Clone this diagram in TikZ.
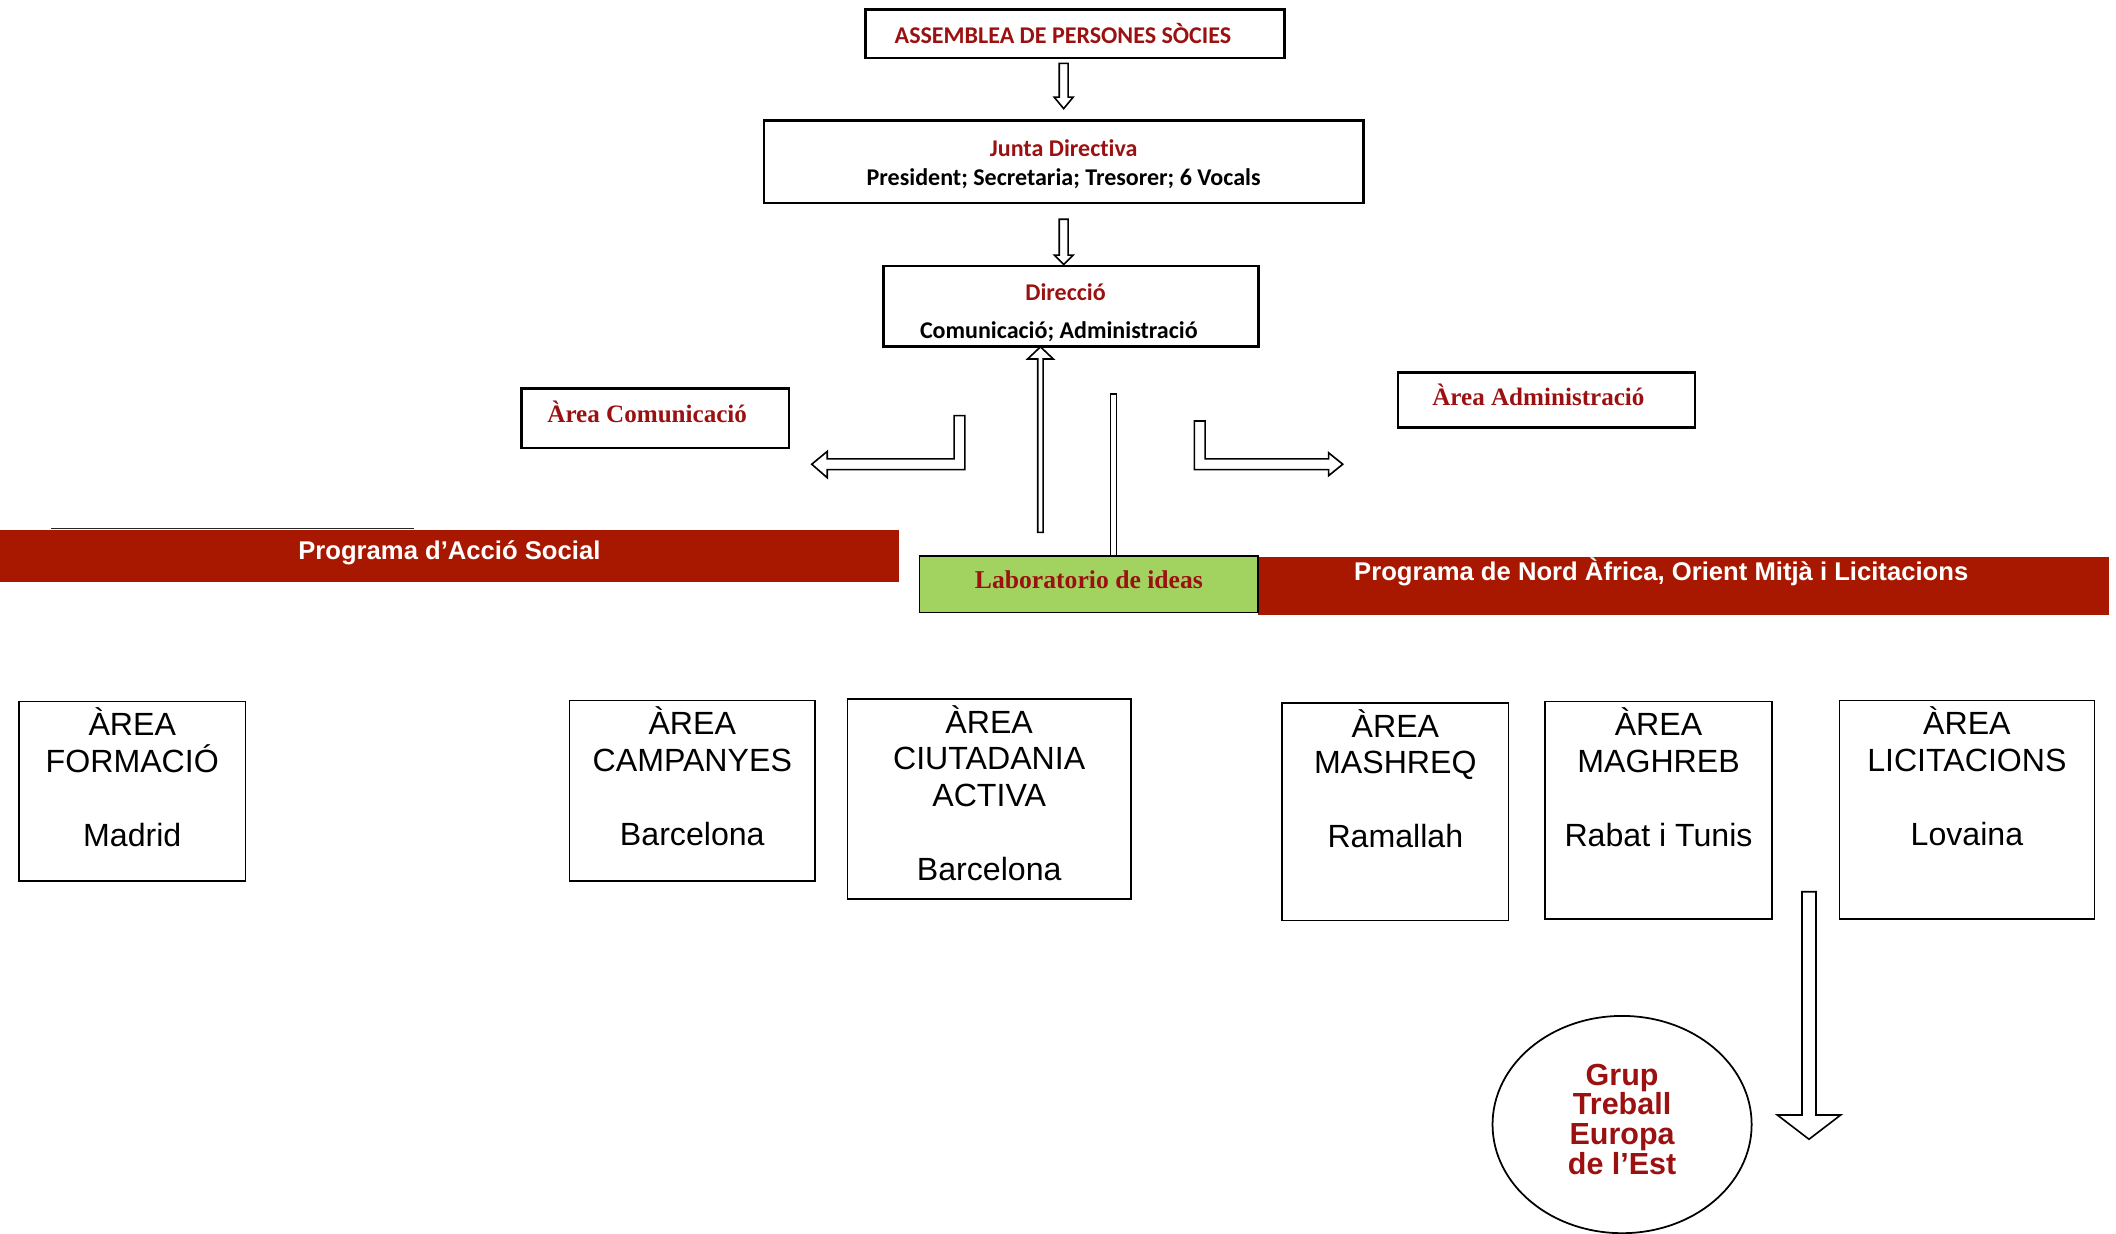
\documentclass[tikz,border=0pt]{standalone}
\usepackage{fontspec}
\setmainfont{Liberation Sans}
\newfontfamily\calibri{Carlito}[Ligatures=NoCommon]
\newfontfamily\antiqua{Liberation Serif}
\usetikzlibrary{shapes.geometric,calc}
\definecolor{darkred}{RGB}{155,17,17}
\definecolor{barred}{RGB}{168,24,0}
\definecolor{labgreen}{RGB}{162,211,96}
\tikzset{
  topbox/.style={draw, line width=2pt, inner sep=0pt, outer sep=0pt, align=center,
    font=\calibri\bfseries\fontsize{17.8}{22}\selectfont},
  sidebox/.style={draw, line width=2pt, inner sep=0pt, outer sep=0pt, text=darkred,
    font=\antiqua\bfseries\fontsize{18.6}{22}\selectfont},
  bar/.style={fill=barred, inner sep=0pt, outer sep=0pt},
  bartext/.style={text=white, inner sep=0pt, font=\bfseries\fontsize{19}{22}\selectfont},
  labbox/.style={draw, line width=1pt, fill=labgreen, inner sep=0pt, outer sep=0pt, text=darkred,
    font=\antiqua\bfseries\fontsize{19}{22}\selectfont},
  areabox/.style={draw, line width=1.1pt, inner sep=0pt, outer sep=0pt, anchor=north},
  areatext/.style={align=center, inner sep=0pt, anchor=north, font=\fontsize{23.8}{27}\selectfont},
  hollow/.style={draw, fill=white, line width=1.2pt, line join=miter}
}
\begin{document}
\begin{tikzpicture}[x=1pt,y=-1pt]
\useasboundingbox (0,0) rectangle (1568,914);
% direction
\node[topbox, minimum width=310pt, minimum height=36pt, text=darkred] (assemblea) at (796.6,25) {ASSEMBLEA DE PERSONES SÒCIES\hspace*{18pt}};
\node[topbox, minimum width=444pt, minimum height=61pt] (junta) at (788.2,120) {\rule{0pt}{16pt}\textcolor{darkred}{Junta Directiva}\\President; Secretaria; Tresorer; 6 Vocals};
\node[topbox, minimum width=278pt, minimum height=60pt] (direccio) at (793.6,227) {\rule{0pt}{22pt}\textcolor{darkred}{Direcció}\hspace*{8pt}\\[6.7pt]Comunicació; Administració\hspace*{18pt}};
\node[sidebox, minimum width=198pt, minimum height=44pt] (comunicacio) at (485.6,310) {\rule[-10pt]{0pt}{10pt}Àrea Comunicació\hspace*{12pt}};
\node[sidebox, minimum width=220pt, minimum height=41pt] (administracio) at (1146,296.5) {\rule[-8pt]{0pt}{8pt}Àrea Administració\hspace*{12pt}};
% programes
\node[bar, minimum width=666pt, minimum height=38.5pt, anchor=north west] (social) at (0,392.5) {};
\draw[line width=1.2pt, black!85] ($(social.north west)+(38,-0.8)$) -- ++(269,0);
\node[bartext] (socialtext) at (333,410) {Programa d’Acció Social};
\node[bar, minimum width=631pt, minimum height=43.5pt, anchor=north west] (nord) at (932,412.5) {};
\node[bartext] (nordtext) at (1231,423.5) {Programa de Nord Àfrica, Orient Mitjà i Licitacions};
\node[labbox, minimum width=250.6pt, minimum height=41.8pt] (lab) at (806.9,432.9) {\rule[-7pt]{0pt}{7pt}Laboratorio de ideas};
% arees
\foreach \name/\cx/\top/\w/\h/\txt in {
  formacio/98/520/168/133/{ÀREA\\FORMACIÓ\\[28pt]Madrid},
  campanyes/513/519/182/134/{ÀREA\\CAMPANYES\\[28pt]Barcelona},
  ciutadania/733/518/210/148/{ÀREA\\CIUTADANIA\\ACTIVA\\[28pt]Barcelona},
  mashreq/1034/521/168/161/{ÀREA\\MASHREQ\\[28pt]Ramallah},
  maghreb/1229/520/168/161/{ÀREA\\MAGHREB\\[28pt]Rabat i Tunis},
  licitacions/1457.5/519/189/162/{ÀREA\\LICITACIONS\\[28pt]Lovaina}}
{
  \node[areabox, minimum width=\w pt, minimum height=\h pt] (\name) at (\cx,\top) {};
  \node[areatext] (\name text) at ([yshift=-4.5pt]\name.north) {\txt};
}
\node[ellipse, draw, line width=1.3pt, minimum width=192pt, minimum height=161pt, inner sep=0pt, align=center,
  text=darkred, font=\bfseries\fontsize{22.6}{22}\selectfont] (grup) at (1202,833.3) {Grup\\Treball\\Europa\\de l’Est\rule[-8pt]{0pt}{8pt}};
% fletxes
\draw[hollow] ($(junta.north |- assemblea.south)+(-3.3,4)$) -- ++(0,25) -- ++(-3.7,0) -- ++(7,8.5) -- ++(7,-8.5) -- ++(-3.7,0) -- ++(0,-25) -- cycle;
\draw[hollow] ($(junta.south)+(-3.3,12)$) -- ++(0,26.5) -- ++(-3.7,0) -- ++(7,7) -- ++(7,-7) -- ++(-3.7,0) -- ++(0,-26.5) -- cycle;
\coordinate (uptip) at ($(direccio.south)+(-22.6,0)$);
\draw[hollow] (uptip) -- ++(9.5,9) -- ++(-7.5,0) -- ++(0,128.5) -- ++(-4,0) -- ++(0,-128.5) -- ++(-7.5,0) -- cycle;
\draw[hollow] ($(lab.north)+(16,0)$) rectangle ++(4.5,-120);
\coordinate (leftbend) at (715,308);
\draw[hollow] (leftbend) -- ++(0,40) -- ++(-102,0) -- ++(0,6) -- ++(-11.5,-10) -- ++(11.5,-9.5) -- ++(0,5.5) -- ++(94,0) -- ++(0,-32) -- cycle;
\coordinate (rightbend) at (885,312);
\draw[hollow] (rightbend) -- ++(8,0) -- ++(0,28) -- ++(91.5,0) -- ++(0,-4.5) -- ++(10.5,8.5) -- ++(-10.5,8.5) -- ++(0,-4.5) -- ++(-99.5,0) -- cycle;
\coordinate (downtop) at (1340.5,660.8);
\draw[hollow] ($(downtop)+(-5.2,0)$) -- ++(0,165.4) -- ++(-18.3,0) -- ++(23.5,18) -- ++(23.5,-18) -- ++(-18.3,0) -- ++(0,-165.4) -- cycle;
\end{tikzpicture}
\end{document}
